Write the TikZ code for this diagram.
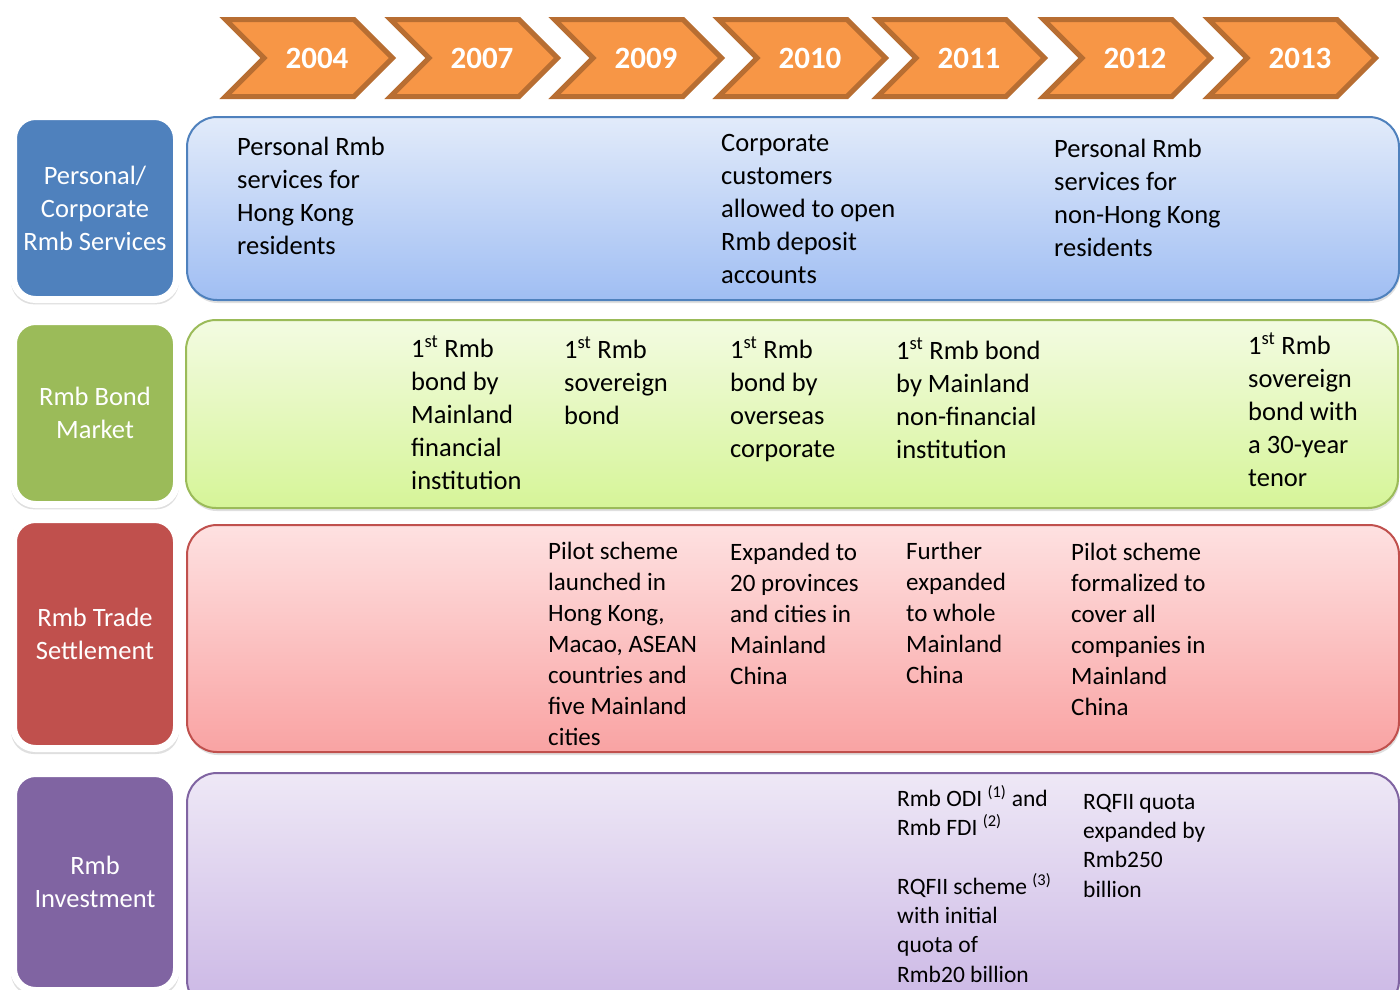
\documentclass[tikz,border=0pt]{standalone}
\usepackage{fontspec}
\setmainfont{Carlito}
\usetikzlibrary{shapes.symbols,shadows}
\definecolor{yrfill}{HTML}{F79646}
\definecolor{yrline}{HTML}{B86E32}
\definecolor{catblue}{HTML}{4F81BD}
\definecolor{catgreen}{HTML}{9BBB59}
\definecolor{catred}{HTML}{C0504D}
\definecolor{catpurple}{HTML}{8064A2}
\definecolor{bluetop}{HTML}{E2EBFA}
\definecolor{bluebot}{HTML}{A0BEF3}
\definecolor{greentop}{HTML}{F3FBE2}
\definecolor{greenbot}{HTML}{D6F598}
\definecolor{redtop}{HTML}{FEE1E1}
\definecolor{redbot}{HTML}{F9A3A3}
\definecolor{purpletop}{HTML}{EEE8F6}
\definecolor{purplebot}{HTML}{CBB7E5}
\tikzset{
  year it/.style={signal, signal to=east, signal from=west, signal pointer angle=90,
    fill=yrfill, draw=yrline, line width=5pt, minimum width=167pt, minimum height=77pt,
    inner sep=0pt, text=white, font=\fontsize{31}{37}\selectfont\bfseries,
    execute at begin node=\hspace*{16pt}},
  cat it/.style={rectangle, rounded corners=22pt, draw=white, line width=7pt, minimum width=163pt,
    text=white, align=center, font=\fontsize{26.5}{33}\selectfont,
    drop shadow={opacity=.25, shadow xshift=0pt, shadow yshift=-2pt, shadow scale=1.03}},
  band it/.style={rectangle, rounded corners=30pt, line width=2pt, minimum width=1212pt,
    drop shadow={opacity=.25, shadow xshift=1pt, shadow yshift=-3pt}},
  evt/.style={anchor=base west, align=left, inner sep=0pt, font=\fontsize{26.5}{33}\selectfont},
}

\begin{document}
\begin{tikzpicture}[x=1pt,y=-1pt]
\useasboundingbox[fill=white] (0,0) rectangle (1400,989);

% years
\node[year it] (y2004) at (309,58) {2004};
\node[year it] (y2007) at (474,58) {2007};
\node[year it] (y2009) at (638,58) {2009};
\node[year it] (y2010) at (802,58) {2010};
\node[year it] (y2011) at (961,58) {2011};
\node[year it] (y2012) at (1127,58) {2012};
\node[year it] (y2013) at (1292,58) {2013};

% bands
\node[band it, draw=catblue, top color=bluetop, bottom color=bluebot,
  minimum height=183pt] (bandpers) at (793,208.5) {};
\node[band it, draw=catgreen, top color=greentop, bottom color=greenbot,
  minimum height=188pt] (bandbond) at (792,414) {};
\node[band it, draw=catred, top color=redtop, bottom color=redbot,
  minimum height=227pt] (bandtrade) at (793,638.5) {};
\node[band it, draw=catpurple, top color=purpletop, bottom color=purplebot,
  minimum height=237pt] (bandinv) at (793,891.5) {};

% categories
\node[cat it, fill=catblue, minimum height=183pt] (catpers) at (95,208) {Personal/\\Corporate\\Rmb Services};
\node[cat it, fill=catgreen, minimum height=183pt] (catbond) at (95,413) {Rmb Bond\\Market};
\node[cat it, fill=catred, minimum height=229pt] (cattrade) at (95,634) {Rmb Trade\\Settlement};
\node[cat it, fill=catpurple, minimum height=217pt] (catinv) at (95,882) {Rmb\\Investment};

% personal / corporate (placed at last baseline)
\node[evt] (pers) at (237,254) {Personal Rmb\\services for\\Hong Kong\\residents};
\node[evt] (corp) at (721,283) {Corporate\\customers\\allowed to open\\Rmb deposit\\accounts};
\node[evt] (nonhk) at (1054,256) {Personal Rmb\\services for\\non-Hong Kong\\residents};

% bond market
\node[evt] (bondfin) at (411,489) {1\textsuperscript{st} Rmb\\bond by\\Mainland\\financial\\institution};
\node[evt] (bondsov) at (564,424) {1\textsuperscript{st} Rmb\\sovereign\\bond};
\node[evt] (bondcorp) at (730,457) {1\textsuperscript{st} Rmb\\bond by\\overseas\\corporate};
\node[evt] (bondnonfin) at (896,458) {1\textsuperscript{st} Rmb bond\\by Mainland\\non-financial\\institution};
\node[evt] (bondtenor) at (1248,486) {1\textsuperscript{st} Rmb\\sovereign\\bond with\\a 30-year\\tenor};

% trade settlement
\tikzset{evt/.append style={font=\fontsize{25}{31}\selectfont}}
\node[evt] (pilot) at (548,745) {Pilot scheme\\launched in\\Hong Kong,\\Macao, ASEAN\\countries and\\five Mainland\\cities};
\node[evt] (twenty) at (730,684) {Expanded to\\20 provinces\\and cities in\\Mainland\\China};
\node[evt] (whole) at (906,683) {Further\\expanded\\to whole\\Mainland\\China};
\node[evt] (formal) at (1071,715) {Pilot scheme\\formalized to\\cover all\\companies in\\Mainland\\China};

% investment
\tikzset{evt/.append style={font=\fontsize{23.5}{29.3}\selectfont}}
\node[evt] (odi) at (897,982) {Rmb ODI \textsuperscript{(1)} and\\Rmb FDI \textsuperscript{(2)}\\[29.3pt]RQFII scheme \textsuperscript{(3)}\\with initial\\quota of\\Rmb20 billion};
\node[evt] (rqfii) at (1083,897) {RQFII quota\\expanded by\\Rmb250\\billion};

\end{tikzpicture}
\end{document}
